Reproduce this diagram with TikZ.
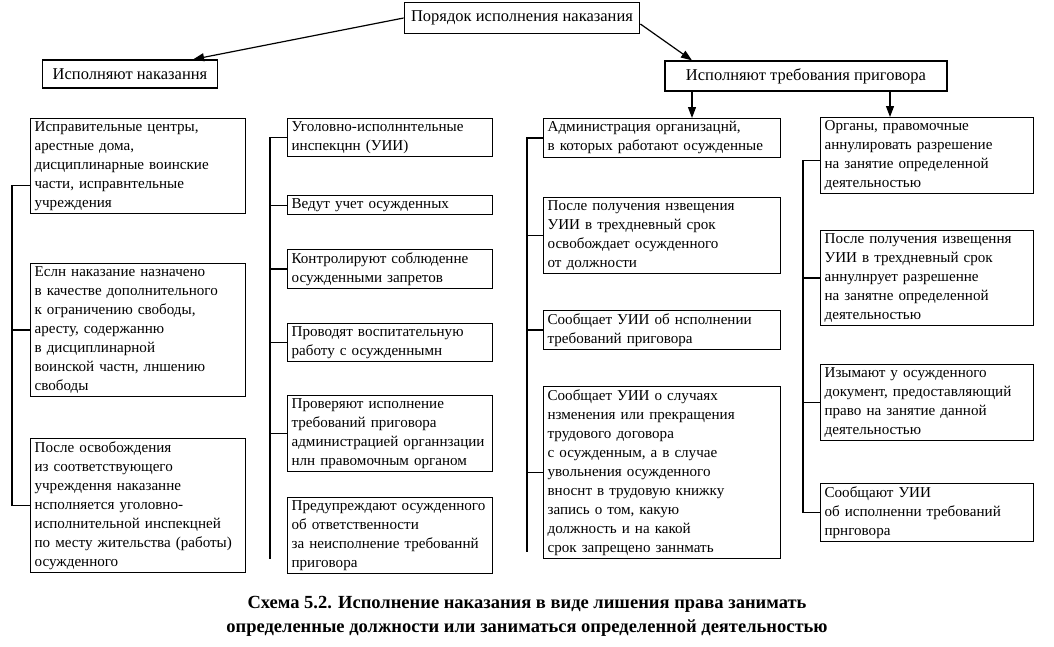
\documentclass[tikz,border=0pt]{standalone}
\usepackage{fontspec}
\setmainfont{Liberation Serif}
\usetikzlibrary{arrows.meta, positioning}

\begin{document}
\begin{tikzpicture}[
      x=1pt, y=-1pt,
      item/.style={draw, line width=1.2pt, inner xsep=4pt, inner ysep=3pt, align=left, anchor=north west, font=\fontsize{15.1}{19}\selectfont},
      head/.style={draw, line width=1.2pt, inner xsep=5pt, inner ysep=4pt, font=\fontsize{16.5}{19}\selectfont},
      bus/.style={line width=1.3pt},
      arr/.style={line width=1.2pt, -{Triangle[length=11pt, width=8pt]}}
    ]
    \useasboundingbox (0,0) rectangle (1054,646);

    \node[head, line width=1.8pt, minimum width=235pt, minimum height=31pt] (order) at (522,18) {Порядок исполнения наказания};
    \node[head, minimum width=175pt, minimum height=28pt] (exec) at (130,74) {Исполняют наказання};
    \node[head, minimum width=282pt, minimum height=30pt] (req) at (806,76) {Исполняют требования приговора};

    \node[item, text width=207pt] (punA) at (30,118) {Исправительные центры,\\арестные дома,\\дисциплинарные воинские\\части, исправнтельные\\учреждения};
    \node[item, text width=207pt] (punB) at (30,263) {Еслн наказание назначено\\в качестве дополнительного\\к ограничению свободы,\\аресту, содержанню\\в дисциплинарной\\воинской частн, лншению\\свободы};
    \node[item, text width=207pt] (punC) at (30,438) {После освобождения\\из соответствующего\\учреждення наказанне\\нсполняется уголовно-\\исполнительной инспекцней\\по месту жительства (работы)\\осужденного};

    \node[item, text width=197pt] (insA) at (287,118) {Уголовно-исполннтельные\\инспекцнн (УИИ)};
    \node[item, text width=197pt] (insB) at (287,195) {Ведут учет осужденных};
    \node[item, text width=197pt] (insC) at (287,249) {Контролируют соблюденне\\осужденными запретов};
    \node[item, text width=197pt] (insD) at (287,323) {Проводят воспитательную\\работу с осужденнымн};
    \node[item, text width=197pt] (insE) at (287,395) {Проверяют исполнение\\требований приговора\\администрацией органнзации\\нлн правомочным органом};
    \node[item, text width=197pt] (insF) at (287,497) {Предупреждают осужденного\\об ответственности\\за неисполнение требованнй\\приговора};

    \node[item, text width=229pt] (admA) at (543,118) {Администрация организацнй,\\в которых работают осужденные};
    \node[item, text width=229pt] (admB) at (543,197) {После получения нзвещения\\УИИ в трехдневный срок\\освобождает осужденного\\от должности};
    \node[item, text width=229pt] (admC) at (543,310) {Сообщает УИИ об нсполнении\\требований приговора};
    \node[item, text width=229pt] (admD) at (543,386) {Сообщает УИИ о случаях\\нзменения или прекращения\\трудового договора\\с осужденным, а в случае\\увольнения осужденного\\вноснт в трудовую книжку\\запись о том, какую\\должность и на какой\\срок запрещено заннмать};

    \node[item, text width=205pt] (orgA) at (820,117) {Органы, правомочные\\аннулировать разрешение\\на занятие определенной\\деятельностью};
    \node[item, text width=205pt] (orgB) at (820,230) {После получения извещення\\УИИ в трехдневный срок\\аннулнрует разрешенне\\на занятне определенной\\деятельностью};
    \node[item, text width=205pt] (orgC) at (820,364) {Изымают у осужденного\\документ, предоставляющий\\право на занятие данной\\деятельностью};
    \node[item, text width=205pt] (orgD) at (820,483) {Сообщают УИИ\\об исполненни требований\\прнговора};

    \node[font=\bfseries\fontsize{18.5}{24}\selectfont, align=center] (caption) at (527,616) {Схема 5.2. Исполнение наказания в виде лишения права занимать\\определенные должности или заниматься определенной деятельностью};

    \coordinate (dA) at (692,0);
    \coordinate (dB) at (890,0);
    \draw[arr] (order.west) -- ([xshift=-25pt]exec.north east);
    \draw[arr] ([yshift=-6pt]order.east) -- (req.north -| dA);
    \draw[arr] (req.south -| dA) -- (admA.north -| dA);
    \draw[arr] (req.south -| dB) -- (orgA.north -| dB);

    \draw[bus] ([yshift=-19pt]punA.west) -- ++(-18,0) |- (punC.west);
    \draw[bus] (punB.west) -- ++(-18,0);

    \draw[bus] (insA.west) -- ++(-17,0) -- ++(0,421);
    \foreach \n in {insB,insC,insD,insE}
      \draw[bus] (\n.west) -- ++(-17,0);

    \draw[bus] (admA.west) -- ++(-16,0) -- ++(0,414);
    \foreach \n in {admB,admC,admD}
      \draw[bus] (\n.west) -- ++(-16,0);

    \draw[bus] ([yshift=-5pt]orgA.west) -- ++(-17,0) |- (orgD.west);
    \foreach \n in {orgB,orgC}
      \draw[bus] (\n.west) -- ++(-17,0);
  \end{tikzpicture}
\end{document}
